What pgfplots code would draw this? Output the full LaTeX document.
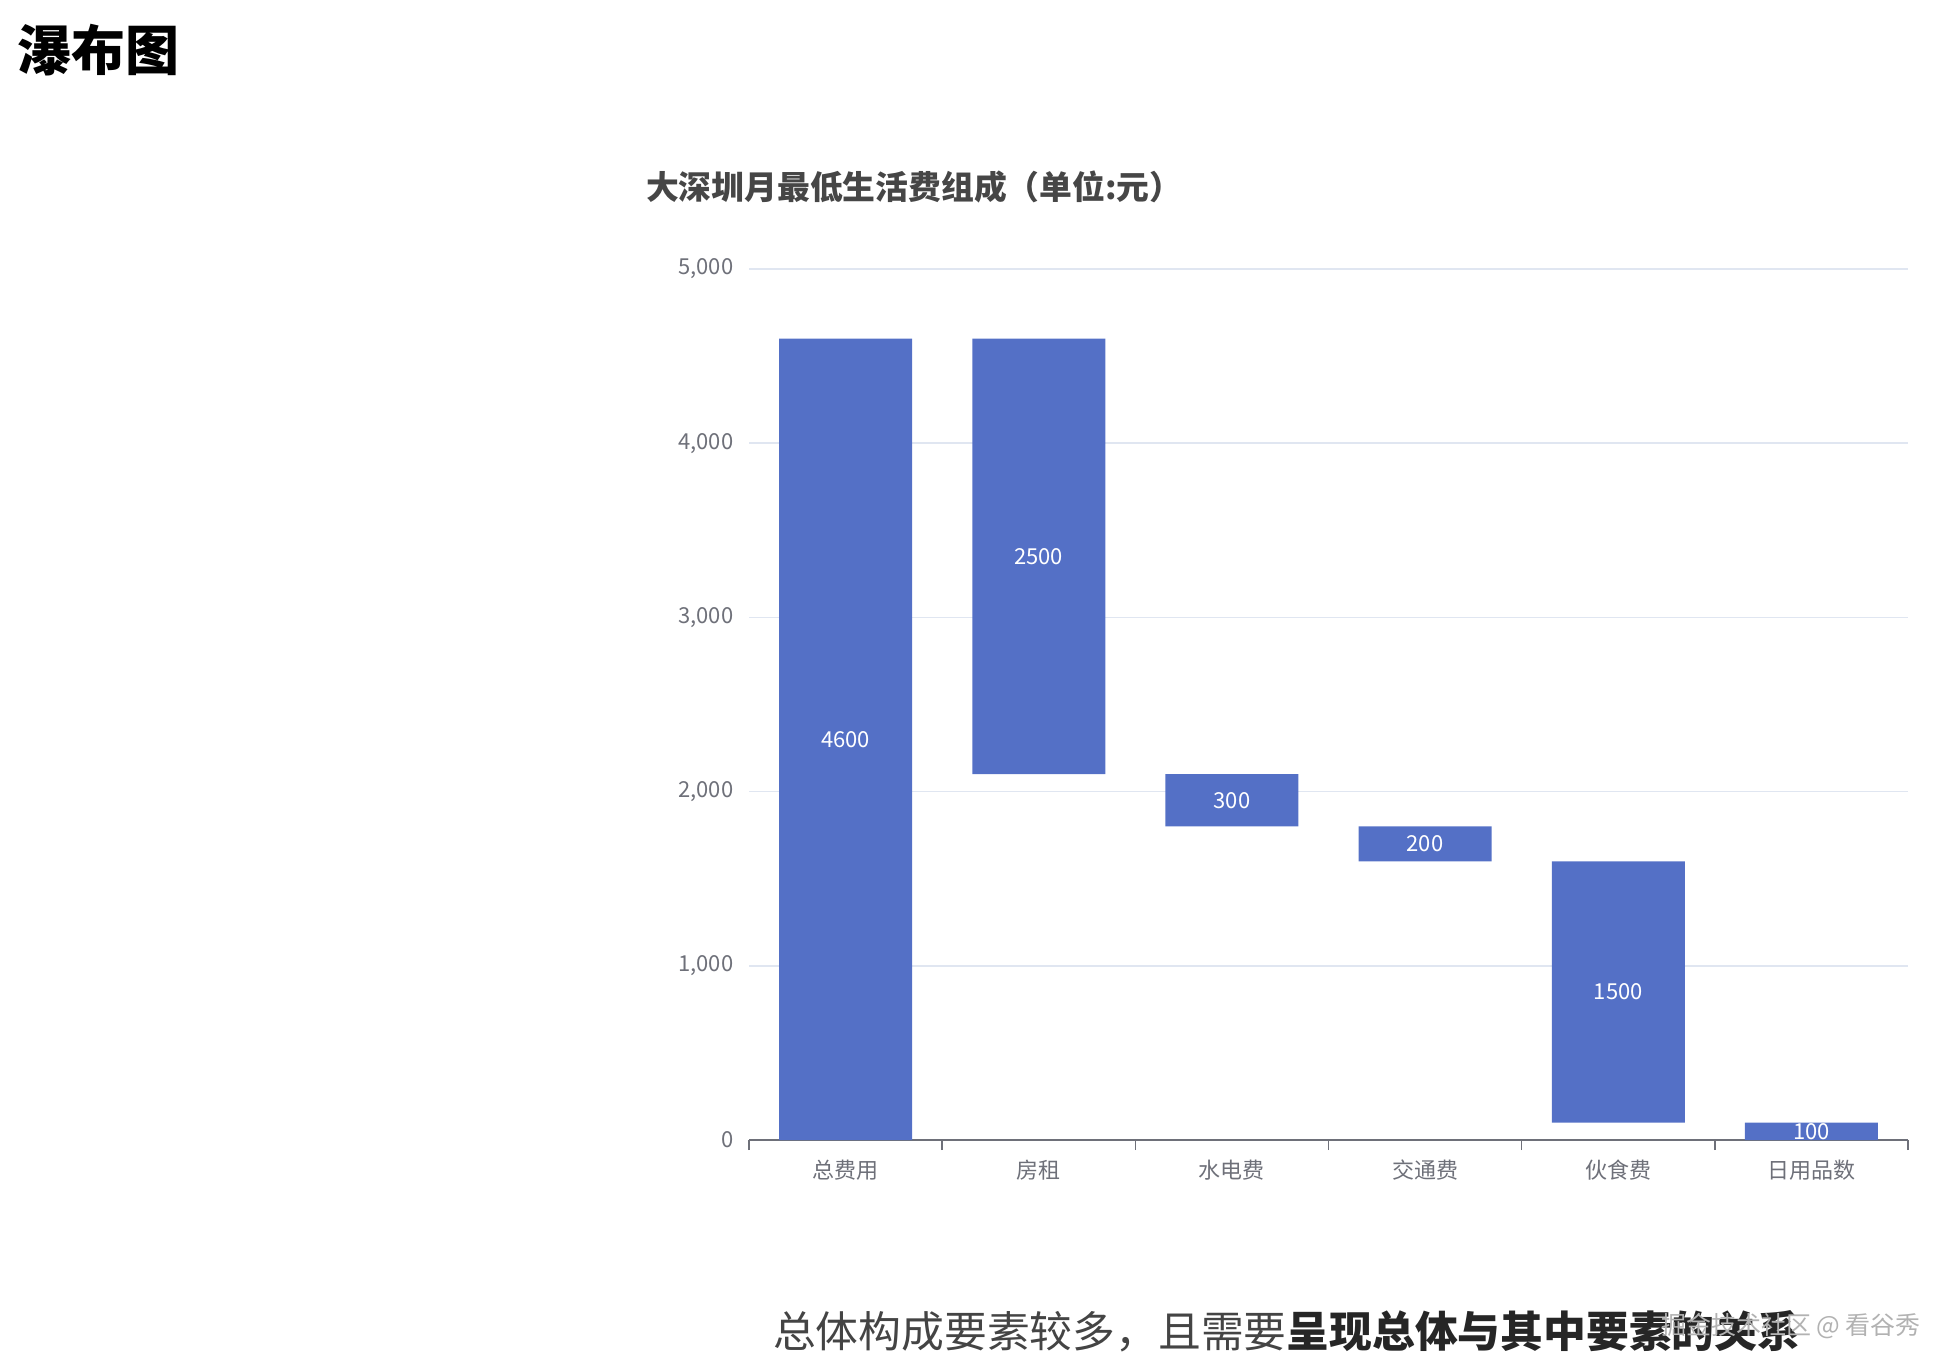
\documentclass[border=0pt]{standalone}
\usepackage{fontspec}
\setmainfont{Noto Sans CJK SC}
\usepackage{pgfplots}
\usepackage{pgfplotstable}
\pgfplotsset{compat=1.18}

\definecolor{barblue}{HTML}{5470C6}
\definecolor{gridc}{HTML}{E0E6F1}
\definecolor{axisc}{HTML}{6E7079}
\definecolor{titlec}{HTML}{464646}
\definecolor{notec}{HTML}{444444}

% waterfall: invisible base + visible step
\pgfplotstableread{
x base val
0 0 4600
1 2100 2500
2 1800 300
3 1600 200
4 100 1500
5 0 100
}\wf

\pgfplotsset{wfaxis/.style={
    scale only axis, width=579.5pt, height=435.5pt,
    xmin=-0.5, xmax=5.5, ymin=0, ymax=5000,
    at={(374.5pt,110pt)}, anchor=south west}}

\begin{document}
\begin{tikzpicture}
\path (0,0) rectangle (968pt,680pt);

\node[anchor=west, font=\fontsize{27}{30}\selectfont\bfseries, text=black] at (5pt,655pt) {瀑布图};
\node[anchor=west, font=\fontsize{16.4}{19}\selectfont\bfseries, text=titlec] at (319.5pt,586.5pt) {大深圳月最低生活费组成（单位:元）};

\begin{axis}[wfaxis,
    ybar stacked, bar width=66.5pt,
    axis x line*=bottom, axis y line*=left,
    x axis line style={axisc, line width=0.8pt},
    y axis line style={draw=none},
    ymajorgrids, grid style={gridc, line width=0.8pt},
    ytick={0,1000,...,5000},
    ytick style={draw=none},
    /pgf/number format/assume math mode=true,
    yticklabel style={font=\fontsize{11}{13}\selectfont, text=axisc},
    xtick={0,...,5},
    xticklabels={总费用,房租,水电费,交通费,伙食费,日用品数},
    major x tick style={draw=none},
    minor xtick={-0.5,0.5,...,5.5},
    minor tick length=5pt, tick align=outside,
    minor x tick style={axisc, line width=0.8pt},
    xticklabel style={font=\fontsize{11}{13}\selectfont, text=axisc, yshift=-2pt},
]
\addplot[draw=none, fill=none] table[x=x, y=base] {\wf};
\addplot[draw=none, fill=barblue] table[x=x, y=val] {\wf};
\end{axis}

\begin{axis}[wfaxis, hide axis]
\addplot[only marks, mark=none, nodes near coords, point meta=explicit symbolic,
    every node near coord/.append style={anchor=center, text=white, font=\fontsize{11}{13}\selectfont}]
    table[x=x, y expr=\thisrow{base}+0.5*\thisrow{val}, meta=val] {\wf};
\end{axis}

\node[anchor=west, font=\fontsize{21.4}{24}\selectfont, text=notec] at (383pt,14.5pt)
    {总体构成要素较多，且需要{\bfseries\color{black!85}呈现总体与其中要素的关系}};
\node[anchor=west, font=\fontsize{12.5}{14}\selectfont, text=gray!60] at (827pt,17pt) {掘金技术社区 @ 看谷秀};
\end{tikzpicture}
\end{document}
